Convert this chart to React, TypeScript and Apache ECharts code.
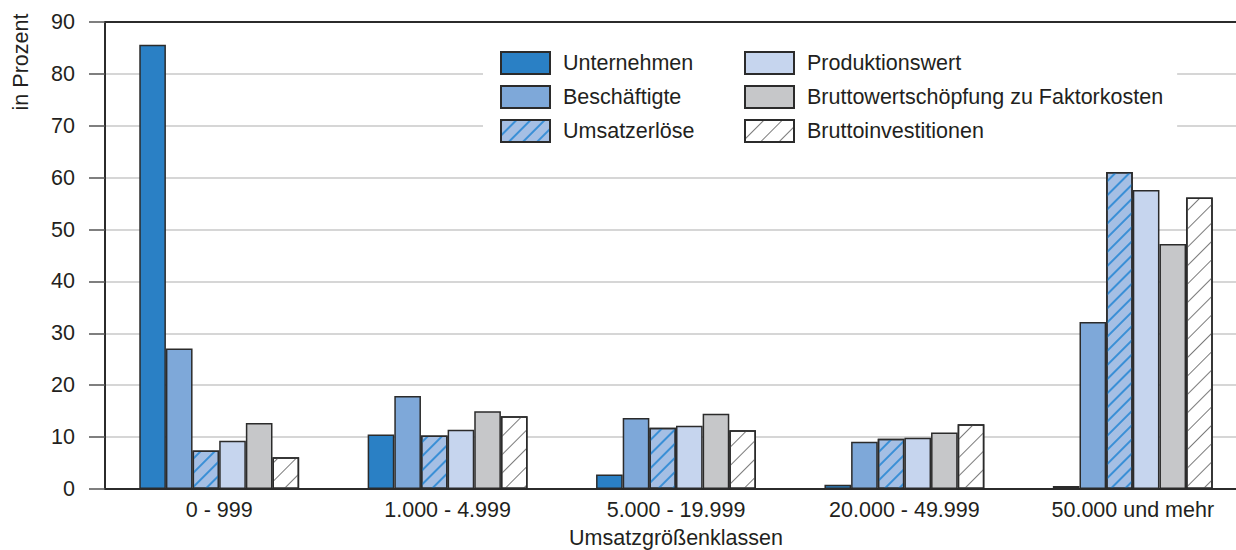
import React, { useEffect, useRef } from "react";
import * as echarts from "echarts";

const categories = ["0 - 999", "1.000 - 4.999", "5.000 - 19.999", "20.000 - 49.999", "50.000 und mehr"];
const unternehmen = [85.6, 10.5, 2.8, 0.8, 0.6];
const beschaeftigte = [27.1, 17.9, 13.7, 9.1, 32.2];
const umsatzerloese = [7.4, 10.3, 11.8, 9.7, 61.1];
const produktionswert = [9.3, 11.4, 12.2, 9.9, 57.6];
const bruttowertschoepfung = [12.7, 15.0, 14.5, 10.9, 47.2];
const bruttoinvestitionen = [6.1, 14.0, 11.3, 12.5, 56.2];
const yTicks = { min: 0, max: 90, interval: 10 };

const FONT = "'Liberation Sans', Arial, Helvetica, sans-serif";
const FS = 21.5;
const TEXT = "#231f20";
const BORDER = "#2b2b2b";

export default function App() {
  const ref = useRef<HTMLDivElement>(null);
  useEffect(() => {
    if (!ref.current) return;
    const chart = echarts.init(ref.current, null, { renderer: "svg" });
    const base = (name: string, data: number[], color: string, decal?: any) => ({
      name,
      type: "bar",
      data,
      barGap: "0%",
      barCategoryGap: "30%",
      itemStyle: { color, borderColor: BORDER, borderWidth: 1.5, ...(decal ? { decal } : {}) },
    });
    const legendCommon = {
      orient: "vertical",
      itemWidth: 49,
      itemHeight: 22,
      itemGap: 10,
      backgroundColor: "#ffffff",
      textStyle: { fontFamily: FONT, fontSize: FS, color: TEXT, lineHeight: 22, padding: [0, 0, 0, 8] },
      icon: "rect",
      top: 41,
    };
    chart.setOption({
      animation: false,
      textStyle: { fontFamily: FONT },
      grid: { left: 105, top: 22, width: 1142, height: 467, outerBoundsMode: "none", containLabel: false },
      legend: [
        {
          ...legendCommon,
          left: 483,
          padding: [10, 10, 10, 17],
          data: ["Unternehmen", "Beschäftigte", "Umsatzerlöse"],
        },
        {
          ...legendCommon,
          left: 700,
          padding: [10, 14, 10, 44],
          data: ["Produktionswert", "Bruttowertschöpfung zu Faktorkosten", "Bruttoinvestitionen"],
        },
      ],
      xAxis: [
        {
          type: "category",
          data: categories,
          axisLine: { lineStyle: { color: BORDER, width: 2 } },
          axisTick: { show: false },
          axisLabel: { fontFamily: FONT, fontSize: FS, color: TEXT, margin: 10 },
          name: "Umsatzgrößenklassen",
          nameLocation: "middle",
          nameGap: 38,
          nameMoveOverlap: false,
          nameTextStyle: { fontFamily: FONT, fontSize: FS, color: TEXT },
        },
        {
          type: "category",
          position: "top",
          data: categories,
          axisLine: { show: true, lineStyle: { color: BORDER, width: 2 } },
          axisTick: { show: false },
          axisLabel: { show: false },
        },
      ],
      yAxis: {
        type: "value",
        min: yTicks.min,
        max: yTicks.max,
        interval: yTicks.interval,
        axisLine: { show: true, lineStyle: { color: BORDER, width: 2 } },
        axisTick: { show: true, length: 16, lineStyle: { color: "#555", width: 1.5 } },
        axisLabel: { fontFamily: FONT, fontSize: FS, color: TEXT, margin: 30 },
        splitLine: { show: true, lineStyle: { color: "#c8c8c8", width: 1.5 } },
      },
      graphic: [
        {
          type: "text",
          x: 21,
          y: 62,
          rotation: Math.PI / 2,
          style: {
            text: "in Prozent",
            fontFamily: FONT,
            fontSize: FS,
            fill: TEXT,
            align: "center",
            verticalAlign: "middle",
          },
        },
      ],
      series: [
        base("Unternehmen", unternehmen, "#2a80c5"),
        base("Beschäftigte", beschaeftigte, "#7ea8d9"),
        base("Umsatzerlöse", umsatzerloese, "#a5bfe4", {
          symbol: "rect",
          symbolSize: 1,
          color: "#3a8fd6",
          dashArrayX: [1, 0],
          dashArrayY: [1.1, 8],
          rotation: -Math.PI / 4,
        }),
        base("Produktionswert", produktionswert, "#c6d5ee"),
        base("Bruttowertschöpfung zu Faktorkosten", bruttowertschoepfung, "#c6c7c9"),
        base("Bruttoinvestitionen", bruttoinvestitionen, "#ffffff", {
          symbol: "rect",
          symbolSize: 1,
          color: "#7a7a7a",
          dashArrayX: [1, 0],
          dashArrayY: [1, 12],
          rotation: -Math.PI / 4,
        }),
      ],
    });
    return () => chart.dispose();
  }, []);
  return (
    <div
      ref={ref}
      style={{ position: "fixed", left: 0, top: 0, width: 1236, height: 550, background: "#fff" }}
    />
  );
}
